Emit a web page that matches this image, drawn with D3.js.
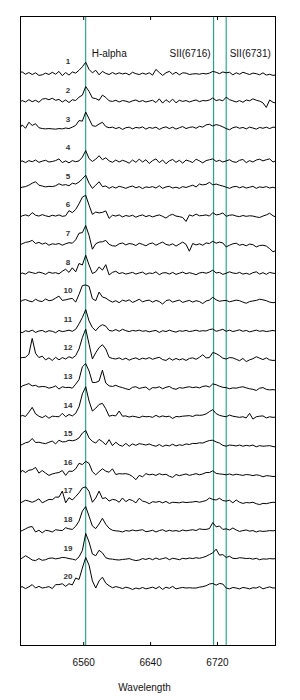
<!DOCTYPE html>
<html><head><meta charset="utf-8">
<script src="https://cdn.jsdelivr.net/npm/d3@7"></script>
<style>html,body{margin:0;padding:0;background:#fff;} svg{display:block;font-family:"Liberation Sans",Arial,Helvetica,sans-serif;}</style>
</head><body><svg id="chart" width="300" height="700"></svg>
<script>
// sampling grid (Angstrom)
const wavelengths = d3.range(6483, 6792, 4);
const spectrumLabels = ["1","2","3","4","5","6","7","8","10","11","12","13","14","15","16","17","18","19","20"];
const flux1 = [0.5,0.6,-0.2,0.4,-0.3,0.3,-0.6,-0.4,0.2,-0.3, 0.5,-0.2,0.8,-0.7,0.4,-0.5,0.6,0.2,1.2,2.4, 4.0,1.5,0.3,1.2,-0.4,0.8,0.1,-0.3,0.4,-0.2, 0.3,-0.1,0.2,-0.4,0.5,0,-0.3,0.2,-0.2,0.3, -0.5,1.5,0.4,-0.6,0.3,0.8,-0.2,0.5,-0.4,0.3, 0.2,-0.3,-0.1,0,-0.2,0.1,-0.1,0.2,0.8,0.5, 0,0.6,0.3,0.5,-0.4,0.3,-0.2,0.5,0.1,-0.3, 0.2,0,-0.4,0.3,-0.5,-0.2,-0.6,-0.4];
const flux2 = [-0.5,0.3,-0.2,0.6,-0.1,0.4,-0.3,0.8,1.0,0.6, 1.1,0.4,0.7,-0.2,0.5,-0.4,0.6,0.3,1.5,2.2, 5.2,3.5,1.2,1.0,0.4,2.2,1.4,0.2,0,0.4, -0.2,0.3,0.1,-0.3,0.2,0.5,-0.1,0.3,-0.2,0.1, 0.4,-0.4,0.9,-0.6,0.6,-0.3,0.8,-0.5,0.4,0, 0.3,-0.2,0.2,0.5,-0.1,0.3,0.2,0.5,1.2,0.3, 0.6,0.2,1.5,0.6,0.2,-0.2,0.3,-0.3,0.5,0.2, 0.9,0.4,0.1,-0.5,-2.1,0.5,-0.3,-0.6];
const flux3 = [-0.6,1.1,-0.1,2.0,0.9,1.5,0.1,-0.2,-0.3,-0.2, -0.3,-0.4,-0.2,-0.3,0,-0.2,0.3,0.9,2.6,2.4, 5.6,3.2,0.8,0.6,1.4,2.0,0.5,0.1,0.3,-0.2, 0.2,-0.5,0.1,0.3,-0.3,0.2,0,0.4,-0.4,0.2, -0.1,0.3,-0.5,0.1,0.4,-0.2,0.3,-0.4,0.1,0.5, -0.2,0.2,0.4,-0.1,0.6,0.3,1.1,1.3,0.7,1.2, 0.9,0.4,-0.2,-0.6,0.1,0.4,-0.1,0.2,-0.3,0.3, 0,-0.4,0.2,-0.1,0.3,-0.2,0.3,0.2];
const flux4 = [-0.3,0.2,-0.4,0.3,-0.1,0.5,-0.3,0.1,0.4,-0.2, 0,0.3,0.9,-0.4,0.2,-0.5,0.3,-0.1,0.2,1.5, 3.8,1.0,0,0.8,2.0,0.6,1.3,0.2,-0.3,0.5, -0.2,0.4,0,-0.6,0.5,-0.3,0.8,-0.2,0.6,-0.7, 0.3,0.9,-0.4,0.5,-0.8,0.2,0.7,-0.3,0.4,-0.6, 0.5,0.1,-0.4,0.8,0.2,-0.5,0.3,0.6,0.9,0, 0.4,-0.2,0.2,0.6,-0.1,-0.3,0.4,0.7,-0.4,0.3, -0.2,0.5,0.8,0.2,0.6,0.9,-0.2,0.3];
const flux5 = [-0.3,0.1,0.3,0.8,1.5,2.0,0.8,0.5,0.2,0.4, 0.3,0.6,1.3,0.8,1.0,0.6,1.5,1.2,1.9,3.0, 4.3,1.5,-0.3,0.8,2.0,0.3,0.5,-0.3,0.3,-0.2, 0.4,0.1,-0.3,0.2,0.5,-0.1,0.3,-0.4,0.2,0, 0.3,-0.2,0.6,-0.3,0.2,0.4,-0.2,0.1,-0.3,0.3, 0,0.4,0.8,0.2,1.2,0.9,1.1,1.8,0.9,1.2, 0.8,0.5,0.1,-0.3,0.2,0.4,-0.1,0.3,-0.2,0.1, 0.4,-0.3,0.2,0,0.3,-0.2,0.1,-0.3];
const flux6 = [-0.5,0.3,0.6,0.2,1.4,0.5,0.2,0.7,0.3,0, 0.5,0.2,0.6,0.1,0.3,2.1,1.4,2.5,4.5,6.8, 7.5,4.0,0.8,1.6,1.3,1.5,2.0,-0.6,0.5,0.2, 0.6,-0.1,0.4,0.1,0.5,-0.2,0.3,0.6,0,0.4, -0.1,0.3,0.6,0.1,-0.5,0.4,0.8,0.2,0,-0.3, -1.7,0.6,0.2,0.9,0.3,0.4,0.6,0.2,1.4,0.6, 0.8,1.3,0.1,0.5,0.6,0.2,0,0.4,0.1,0.3, 0.2,-0.1,-0.3,0.2,0.6,1.2,0.3,-0.2];
const flux7 = [-0.2,0.3,0.8,1.0,1.5,0.4,0.8,0.2,0.6,-0.2, 0.3,0.1,0.4,-0.2,0.3,0.7,0.5,1.7,4.0,4.2, 6.7,3.2,-1.6,0.3,0.9,1.0,1.5,0.1,-0.4,-0.5, 0.3,0.6,-0.1,0.4,0.2,-0.3,0.5,0.1,-0.4,0.3, 0.6,-0.2,0.4,0.9,0.1,-0.2,0.3,-0.5,0.2,0.9, 0.1,-2.3,0.4,-0.1,0.3,-0.2,0.6,0.4,1.2,0.5, 0.9,0.6,-0.8,-0.2,0.3,0.5,-0.2,0.1,-0.4,0.2, 0,-0.8,-0.3,-0.2,-0.5,-1.4,-2.5,-2.0];
const flux8 = [-0.4,0.2,-0.2,0.6,0.3,0,0.5,0.2,-0.3,0.5, 0.1,0.3,-0.1,0.8,1.5,0.4,2.0,0.6,3.5,3.0, 6.4,3.0,0,0.6,2.3,1.2,3.1,-0.5,0.4,0.8, 0,0.3,-0.2,0.1,0.4,-0.2,0.2,0.5,-0.3,0.2, 0,0.6,-0.4,0.2,0.3,-0.2,0.4,-0.3,0.1,0.5, -0.1,0.3,0,-0.4,0.2,0.4,0.1,0.5,1.2,0.2, 0.4,-0.3,0.1,0.6,0.2,0,0.4,-0.2,0.1,-0.3, 0.3,0.6,-0.2,0.3,-0.3,0.4,0.1,0];
const flux10 = [-0.6,0.4,0.7,0.2,-0.1,0.8,0.2,0,0.9,0.3, 0.5,1.2,1.9,0.4,0.6,0.9,1.1,-0.2,2.5,5.6, 5.8,5.3,1.0,0.3,3.3,1.6,1.2,0.4,-0.2,0.3, -0.4,0.5,0.1,0.6,-0.3,0.2,0.8,-0.1,0.3,0.5, -0.2,0.4,0,-0.9,0.3,0.6,-0.2,0.2,0.5,-0.3, 0.1,0.4,-0.2,0.3,0,-0.7,0.2,0.5,1.5,0.6, 0.1,0.3,0.4,-0.1,0.2,0.5,0.3,-0.2,-0.6,0, 0.2,0.4,0.8,0.6,0.3,-0.2,-0.4,-0.2];
const flux11 = [0.2,-0.3,0.4,0.1,0.6,-0.2,0.3,0.5,-0.1,0.4, 0.2,-0.3,0.5,0.1,0.3,0.6,0.2,0.9,2.8,5.0, 7.8,3.8,1.5,0.4,1.8,2.5,2.0,0.5,0.3,0.8, 0.2,0.9,0.4,0.1,0.5,0.3,0.6,0.2,0.4,0, 0.3,0.5,-0.2,0.4,0.1,0.6,0.2,-0.1,0.4,0.2, 0.5,0.1,0.3,0.6,0.2,0.4,0.3,0.8,1.0,0.2, 0.5,0.9,0.2,0.6,0.1,0.4,0.7,0.2,0.5,0, 0.3,0.6,0.2,0.4,0.1,0.3,0.5,0.2];
const flux12 = [0.3,0.5,0.6,1.7,7.2,2.0,0.5,1.0,-0.3,0.4, -0.5,0.6,-0.3,0.5,0,0.8,0.3,1.2,3.5,7.5, 10.5,5.2,0,2.2,4.0,5.0,3.5,0.6,0.2,0, 0.4,-0.2,0.3,-0.4,0.1,0.4,-0.2,0.3,0,0.5, -0.1,0.3,0.6,-0.2,-0.5,0.3,-0.4,0.2,-0.3,0.1, -0.5,0.2,0.4,-0.1,0.6,1.5,0.4,0.5,2.3,1.9, 1.2,0.3,0,0.5,0.4,-0.1,-0.6,0.2,-0.9,-0.3, 0.1,0.8,0.3,-0.2,0.4,-0.3,-0.5,-0.4];
const flux13 = [-0.6,0.8,1.2,1.6,0.8,1.0,0.4,0.6,0.5,0, 0.3,0.8,-0.3,0.5,0.2,0.3,0,1.4,3.0,7.5, 8.6,6.0,2.0,2.0,2.5,6.3,1.8,0.8,0.6,1.0, 0.5,0.2,-0.2,-0.5,0.3,0.5,-0.1,0.2,0.4,-0.6, 0.2,0.1,0.5,-0.2,0.3,0.6,-0.1,-0.4,0.2,0, 0.3,0.5,0.2,0.4,0.1,0.6,0.8,0.4,1.5,1.2, 0.7,0.3,0.2,-0.2,0.1,0,0.3,0.5,0.1,-0.2, -0.4,-0.8,0,0.2,-0.4,-0.6,-0.5,-0.7];
const flux14 = [-0.4,0.5,0.1,1.6,3.3,1.0,0.2,-0.3,0.4,-0.5, 0.2,0.1,0,1.2,0,0.8,0.3,1.2,3.5,8.0, 10.5,5.5,2.0,3.0,4.3,4.7,2.8,0.2,0.5,0.3, 2.0,0.2,0.3,-0.1,0.2,0,-0.3,0.2,0,0.1, -0.2,0.5,-0.1,0.3,0,0.2,-0.6,0.1,0,0.2, 0.3,0.4,0.1,0.6,0.5,0.6,1.0,1.8,2.5,1.1, 0.5,0.2,0,0.6,0.2,0,-0.2,0,-0.4,1.2, -0.8,0,0.2,0.3,-0.4,0,-0.2,-0.1];
const flux15 = [-0.5,0,0.6,0.9,2.1,0.7,0.8,0.5,0.3,0.8, 1.2,0.2,1.5,0.9,1.0,1.5,1.3,1.6,2.3,4.0, 4.9,2.3,1.1,0.5,1.8,1.0,-0.1,1.7,-0.4,0.8, -0.2,-0.6,0.4,-0.6,0.2,-0.3,0.3,0.1,-0.2,0.2, -0.3,-0.6,0,-0.7,-0.2,-0.5,0.1,-0.5,-0.1,-0.3, 0.2,0,0.4,0.3,0.6,0.5,1.0,1.4,1.5,0.9, 0.5,-0.3,-0.6,-0.2,-0.3,-0.5,-0.2,-0.6,-0.3,-0.5, -0.2,-0.8,-0.4,-0.6,-0.5,-0.4,-0.7,-0.9];
const flux16 = [-0.8,1.0,0.2,1.0,1.2,2.0,0,0.9,0,-0.8, -0.3,0,0.2,0.9,-0.8,0.7,0.6,1.5,3.4,3.0, 4.1,3.4,0.5,-0.6,0.5,1.5,0.7,0.3,1.5,-0.5, -0.2,-0.3,-0.2,-0.5,-1.2,-2.3,-0.8,-1.3,-0.2,-0.6, -0.4,-0.8,-0.2,-0.6,-0.4,-1.1,-1.5,-0.5,-0.9,-0.6, -0.3,-0.8,-0.5,-0.2,-0.6,-0.3,0.2,0.2,0.8,-0.1, -0.3,-0.4,-0.6,-0.3,-0.7,-0.4,-0.6,-0.8,-0.5,-0.6, -0.9,-0.6,-0.8,-1.3,-0.9,-1.0,-1.2,-1.1];
const flux17 = [-0.2,0.3,0.9,0.6,0.2,0.7,1.4,0,0.6,1.2, 1.1,2.0,2.0,4.1,0,1.8,1.0,2.2,3.5,5.2, 5.6,4.0,0.2,1.7,4.1,1.5,1.8,0.6,1.2,1.0, 0.2,1.7,0.4,1.2,0.8,0,1.6,0.6,0.3,-0.3, 0.4,0.2,0.5,0,0.5,-0.2,0.2,0.1,0,0.3, 0.1,0.2,0.3,0.5,0.2,0.5,0.8,1.7,1.2,1.0, 1.6,0.8,0.6,0.9,0,1.0,0.2,-0.2,0.1,0, 0.2,-0.3,-0.6,-0.2,-0.3,0,0.2,0.1];
const flux18 = [-0.3,0.2,0.8,1.4,1.6,-0.3,0.3,-0.6,0.3,0.1, -0.3,0.5,0.3,0.2,1.2,0.8,0.6,1.7,3.5,7.0, 8.6,5.2,1.8,0.9,2.5,4.5,2.4,1.0,0.3,0.1, 0,-0.3,0.2,0,0.4,0.1,0.3,0.5,-0.2,0, 0.3,-0.3,0.2,0.5,-0.1,0.3,0,0.2,-0.1,0.4, 0.1,0.3,0.5,0.2,0.8,0.6,0.6,0.9,3.0,1.5, 1.8,0.6,0.8,0.4,1.1,0.4,-0.1,0.2,0.4,0, 0.2,-0.3,0.1,-0.1,0,0.2,0.1,0.3];
const flux19 = [-0.3,0.4,1.2,0.5,-0.3,-0.5,0.2,-0.4,-0.2,0.3, 0.4,0.1,0.3,0.6,0.5,0.2,0,-0.3,0.8,3.0, 9.0,6.0,1.8,1.2,3.1,2.2,0.5,0.1,0,-0.2, -0.3,-0.1,0,0.2,-0.2,-0.5,-0.3,0.2,-0.1,0.3, -0.2,0.4,-0.1,0.2,0.5,-0.2,0.3,0.1,-0.2,0.3, 0.1,0.4,0.2,0.5,0.3,0.6,1.0,1.6,2.2,3.5, 1.4,1.6,0.6,1.0,0.3,0.2,0.5,0.4,0.2,0.3, 0,0.3,-0.2,0.1,0,0.2,0.1,0.2];
const flux20 = [0,0.5,-0.2,0.4,1.2,0,0.6,0,0.2,0.5, -0.2,1.2,1.2,1.5,0.6,1.5,1.1,3.5,3.0,7.0, 10.7,8.0,2.5,0,2.5,3.8,1.7,0.8,0.1,0.5, 0.2,-0.2,0.3,0,-0.5,0,-0.3,0.2,-0.3,0, 0.3,-0.2,0.5,-0.5,0.3,-0.1,0.6,-0.3,0,0.2, 0,0.1,0,0,0.3,0.5,0.8,1.4,1.6,1.0, 1.6,1.4,0,-0.3,0.2,0,-0.3,0.2,0,-0.3, 0.1,0,0.5,-0.3,0.1,0.4,0,0.1];
const spectra = [flux1,flux2,flux3,flux4,flux5,flux6,flux7,flux8,flux10,flux11,flux12,flux13,flux14,flux15,flux16,flux17,flux18,flux19,flux20];
const continuumLevels = [0,0.3,1.0,-0.7,0.2,0,0.2,0.1,0.3,-0.3,0.2,0,0,0.3,0.3,-0.1,0,0.2,0.1];
const emissionLines = [6563, 6716, 6731];
const emissionNames = ["H-alpha", "SII(6716)", "SII(6731)"];
const xTicks = [6560, 6640, 6720];
const xTitle = "Wavelength";

const pL = 20.5, pR = 275.5, pT = 16.5, pB = 645.5;
const svg = d3.select("#chart");
svg.append("rect").attr("width", 300).attr("height", 700).attr("fill", "#fff");

const x = d3.scaleLinear().domain([6485, 6790]).range([pL, pR]);
const y = d3.scaleLinear().domain([-20, 200]).range([pB, pT]);
const step = 10;
const offsetOf = i => (spectra.length - 1 - i) * step;

svg.append("defs").append("clipPath").attr("id", "plotclip")
  .append("rect").attr("x", pL).attr("y", pT).attr("width", pR - pL).attr("height", pB - pT);

// emission line markers
svg.append("g").selectAll("line").data(emissionLines).join("line")
  .attr("x1", d => x(d)).attr("x2", d => x(d))
  .attr("y1", pT).attr("y2", pB)
  .attr("stroke", "#009b76").attr("stroke-width", 1);

// spectra
const gSpec = svg.append("g").attr("clip-path", "url(#plotclip)");
spectra.forEach((flux, i) => {
  const base = offsetOf(i) + continuumLevels[i];
  const line = d3.line().x((d, j) => x(wavelengths[j])).y(d => y(d + base));
  gSpec.append("path").datum(flux).attr("d", line)
    .attr("fill", "none").attr("stroke", "#000").attr("stroke-width", 1)
    .attr("stroke-linejoin", "round");
});

// spectrum numbers
svg.append("g").selectAll("text").data(spectrumLabels).join("text")
  .attr("x", 68).attr("y", (d, i) => y(offsetOf(i) + 4.2))
  .attr("dy", "0.35em").attr("text-anchor", "middle")
  .attr("font-size", 8).attr("font-weight", "bold").attr("fill", "#333").text(d => d);

// emission line names
const nameDx = [6, -3, 3.5];
const nameAnchor = ["start", "end", "start"];
svg.append("g").selectAll("text").data(emissionNames).join("text")
  .attr("x", (d, i) => x(emissionLines[i]) + nameDx[i])
  .attr("y", 56.7).attr("text-anchor", (d, i) => nameAnchor[i])
  .attr("font-size", 10).attr("fill", "#111").text(d => d);

// axes
const axB = svg.append("g").attr("transform", `translate(0,${pB})`)
  .call(d3.axisBottom(x).tickValues(xTicks).tickSizeInner(-3.5).tickSizeOuter(0).tickPadding(13).tickFormat(d3.format("d")));
axB.select(".domain").remove();
axB.selectAll("text").attr("font-family", '"Liberation Sans",Arial,sans-serif').attr("font-size", 10).attr("fill", "#111");
axB.selectAll("line").attr("stroke", "#000");
const axT = svg.append("g").attr("transform", `translate(0,${pT})`)
  .call(d3.axisTop(x).tickValues(xTicks).tickSizeInner(-3.5).tickSizeOuter(0).tickFormat(""));
axT.select(".domain").remove();
axT.selectAll("line").attr("stroke", "#000");

// frame
svg.append("rect").attr("x", pL).attr("y", pT).attr("width", pR - pL).attr("height", pB - pT)
  .attr("fill", "none").attr("stroke", "#000").attr("stroke-width", 1);

svg.append("text").attr("x", 144.5).attr("y", 690.5).attr("text-anchor", "middle")
  .attr("font-size", 10).attr("fill", "#111").text(xTitle);
</script></body></html>
